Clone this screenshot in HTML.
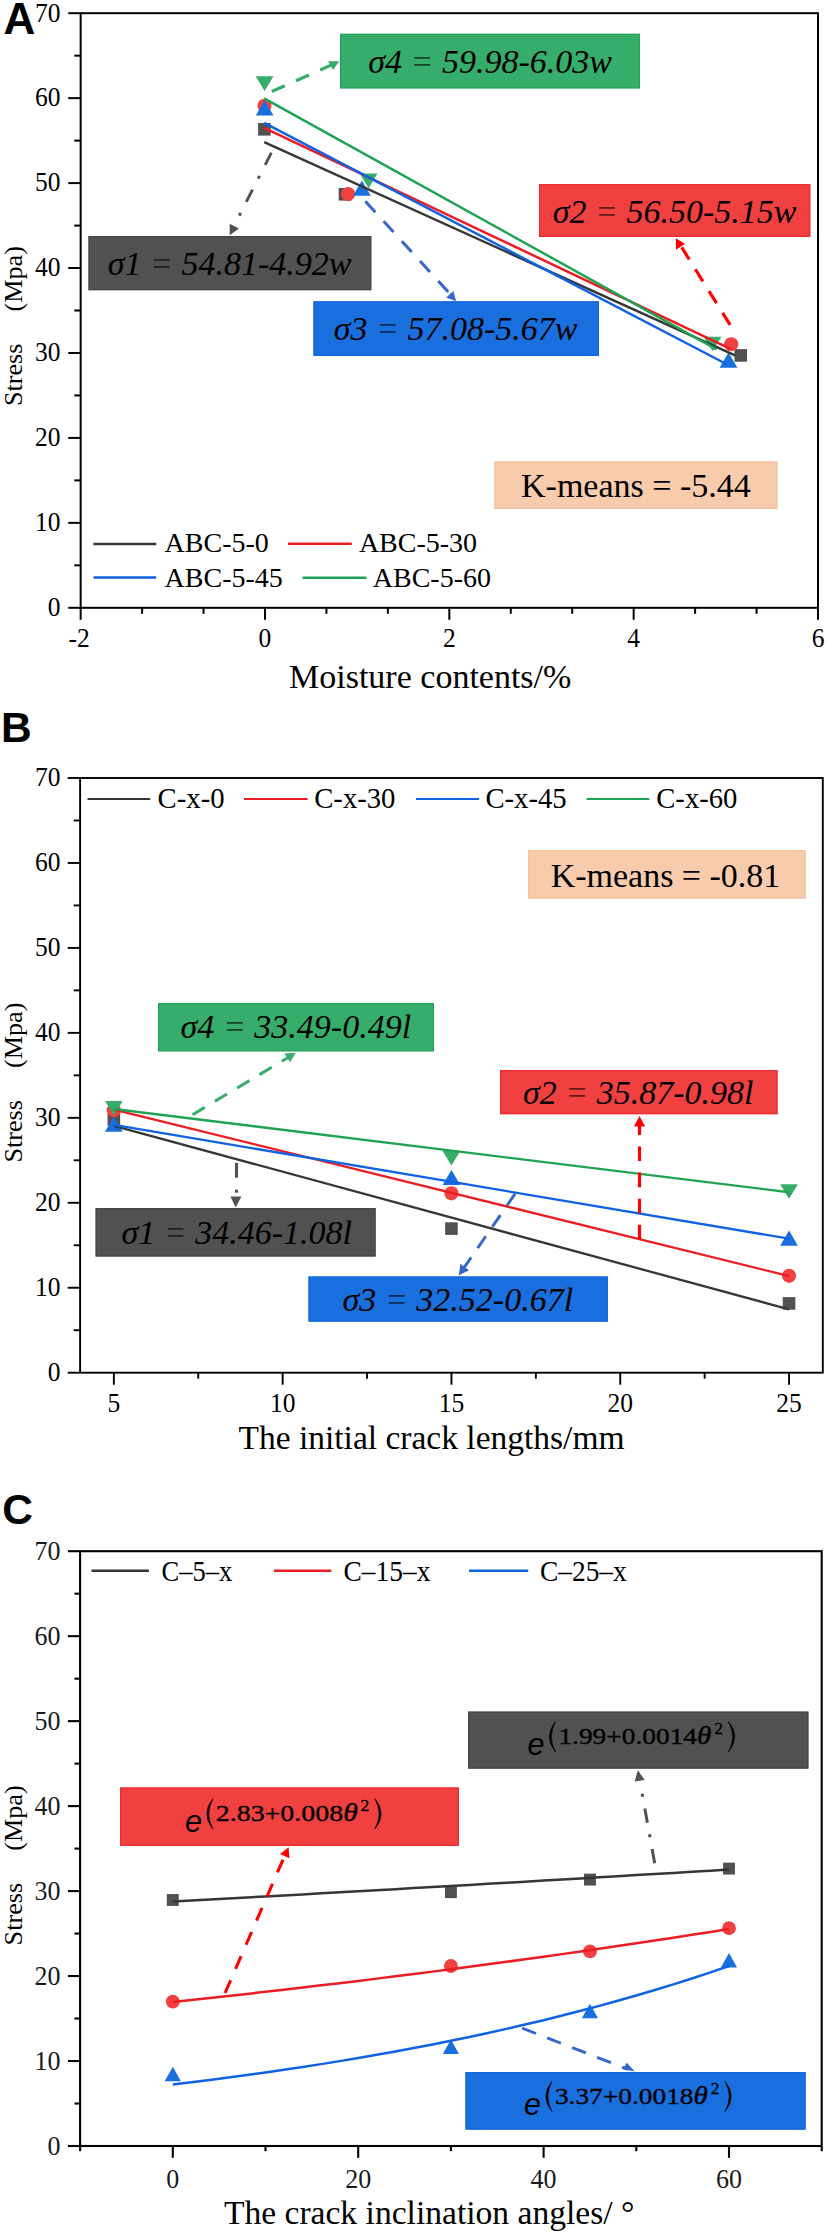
<!DOCTYPE html>
<html><head><meta charset="utf-8"><title>Figure</title>
<style>
html,body{margin:0;padding:0;background:#fff;}
body{width:827px;height:2237px;overflow:hidden;}
svg{display:block;}
</style></head><body>
<svg width="827" height="2237" viewBox="0 0 827 2237">
<rect width="827" height="2237" fill="#fff"/>
<g id="panelA">
<rect x="80.65" y="13.2" width="737.35" height="594.60" fill="none" stroke="#000" stroke-width="2"/>
<line x1="80.65" y1="607.80" x2="80.65" y2="619.80" stroke="#000" stroke-width="2" />
<line x1="264.99" y1="607.80" x2="264.99" y2="619.80" stroke="#000" stroke-width="2" />
<line x1="449.33" y1="607.80" x2="449.33" y2="619.80" stroke="#000" stroke-width="2" />
<line x1="633.66" y1="607.80" x2="633.66" y2="619.80" stroke="#000" stroke-width="2" />
<line x1="818.00" y1="607.80" x2="818.00" y2="619.80" stroke="#000" stroke-width="2" />
<line x1="142.10" y1="607.80" x2="142.10" y2="613.80" stroke="#000" stroke-width="2" />
<line x1="203.54" y1="607.80" x2="203.54" y2="613.80" stroke="#000" stroke-width="2" />
<line x1="326.43" y1="607.80" x2="326.43" y2="613.80" stroke="#000" stroke-width="2" />
<line x1="387.88" y1="607.80" x2="387.88" y2="613.80" stroke="#000" stroke-width="2" />
<line x1="510.77" y1="607.80" x2="510.77" y2="613.80" stroke="#000" stroke-width="2" />
<line x1="572.22" y1="607.80" x2="572.22" y2="613.80" stroke="#000" stroke-width="2" />
<line x1="695.11" y1="607.80" x2="695.11" y2="613.80" stroke="#000" stroke-width="2" />
<line x1="756.55" y1="607.80" x2="756.55" y2="613.80" stroke="#000" stroke-width="2" />
<line x1="68.25" y1="607.80" x2="80.65" y2="607.80" stroke="#000" stroke-width="2" />
<line x1="68.25" y1="522.86" x2="80.65" y2="522.86" stroke="#000" stroke-width="2" />
<line x1="68.25" y1="437.91" x2="80.65" y2="437.91" stroke="#000" stroke-width="2" />
<line x1="68.25" y1="352.97" x2="80.65" y2="352.97" stroke="#000" stroke-width="2" />
<line x1="68.25" y1="268.03" x2="80.65" y2="268.03" stroke="#000" stroke-width="2" />
<line x1="68.25" y1="183.09" x2="80.65" y2="183.09" stroke="#000" stroke-width="2" />
<line x1="68.25" y1="98.14" x2="80.65" y2="98.14" stroke="#000" stroke-width="2" />
<line x1="68.25" y1="13.20" x2="80.65" y2="13.20" stroke="#000" stroke-width="2" />
<line x1="74.25" y1="565.33" x2="80.65" y2="565.33" stroke="#000" stroke-width="2" />
<line x1="74.25" y1="480.39" x2="80.65" y2="480.39" stroke="#000" stroke-width="2" />
<line x1="74.25" y1="395.44" x2="80.65" y2="395.44" stroke="#000" stroke-width="2" />
<line x1="74.25" y1="310.50" x2="80.65" y2="310.50" stroke="#000" stroke-width="2" />
<line x1="74.25" y1="225.56" x2="80.65" y2="225.56" stroke="#000" stroke-width="2" />
<line x1="74.25" y1="140.61" x2="80.65" y2="140.61" stroke="#000" stroke-width="2" />
<line x1="74.25" y1="55.67" x2="80.65" y2="55.67" stroke="#000" stroke-width="2" />
<text transform="translate(60.60,616.10) scale(1.0,1.06)" font-size="25.5" text-anchor="end" font-family="Liberation Serif, serif" >0</text>
<text transform="translate(60.60,531.16) scale(1.0,1.06)" font-size="25.5" text-anchor="end" font-family="Liberation Serif, serif" >10</text>
<text transform="translate(60.60,446.21) scale(1.0,1.06)" font-size="25.5" text-anchor="end" font-family="Liberation Serif, serif" >20</text>
<text transform="translate(60.60,361.27) scale(1.0,1.06)" font-size="25.5" text-anchor="end" font-family="Liberation Serif, serif" >30</text>
<text transform="translate(60.60,276.33) scale(1.0,1.06)" font-size="25.5" text-anchor="end" font-family="Liberation Serif, serif" >40</text>
<text transform="translate(60.60,191.39) scale(1.0,1.06)" font-size="25.5" text-anchor="end" font-family="Liberation Serif, serif" >50</text>
<text transform="translate(60.60,106.44) scale(1.0,1.06)" font-size="25.5" text-anchor="end" font-family="Liberation Serif, serif" >60</text>
<text transform="translate(60.60,21.50) scale(1.0,1.06)" font-size="25.5" text-anchor="end" font-family="Liberation Serif, serif" >70</text>
<text transform="translate(79.15,647.30) scale(1.0,1.06)" font-size="25.5" text-anchor="middle" font-family="Liberation Serif, serif" >-2</text>
<text transform="translate(264.99,647.30) scale(1.0,1.06)" font-size="25.5" text-anchor="middle" font-family="Liberation Serif, serif" >0</text>
<text transform="translate(449.33,647.30) scale(1.0,1.06)" font-size="25.5" text-anchor="middle" font-family="Liberation Serif, serif" >2</text>
<text transform="translate(633.66,647.30) scale(1.0,1.06)" font-size="25.5" text-anchor="middle" font-family="Liberation Serif, serif" >4</text>
<text transform="translate(818.00,647.30) scale(1.0,1.06)" font-size="25.5" text-anchor="middle" font-family="Liberation Serif, serif" >6</text>
<text x="430.20" y="687.50" font-size="34" text-anchor="middle" font-family="Liberation Serif, serif" >Moisture contents/%</text>
<text transform="translate(21.8,406.1) rotate(-90)" font-size="26.2" font-family="Liberation Serif, serif">Stress</text>
<text transform="translate(21.8,311.5) rotate(-90)" font-size="26.2" font-family="Liberation Serif, serif">(Mpa)</text>
<text x="3.40" y="34.20" font-size="44" text-anchor="start" font-family="Liberation Sans, sans-serif" font-weight="bold">A</text>
<rect x="258.10" y="123.00" width="12.6" height="12.6" fill="#515151"/>
<rect x="338.70" y="188.00" width="12.6" height="12.6" fill="#515151"/>
<rect x="734.45" y="349.10" width="12.6" height="12.6" fill="#515151"/>
<circle cx="264.50" cy="105.80" r="7.1" fill="#F14040"/>
<circle cx="348.10" cy="194.10" r="7.1" fill="#F14040"/>
<circle cx="731.25" cy="344.25" r="7.1" fill="#F14040"/>
<polygon points="264.60,100.20 273.50,115.40 255.70,115.40" fill="#1A6FDF"/>
<polygon points="361.90,180.60 370.80,195.80 353.00,195.80" fill="#1A6FDF"/>
<polygon points="728.50,352.60 737.40,367.80 719.60,367.80" fill="#1A6FDF"/>
<polygon points="264.60,90.90 273.50,76.30 255.70,76.30" fill="#37AD6B"/>
<polygon points="368.60,188.20 377.50,173.60 359.70,173.60" fill="#37AD6B"/>
<polygon points="712.60,351.30 721.50,336.70 703.70,336.70" fill="#37AD6B"/>
<line x1="264.19" y1="142.23" x2="735.05" y2="355.37" stroke="#363636" stroke-width="2.5" />
<line x1="264.19" y1="127.87" x2="730.44" y2="348.79" stroke="#EC1C24" stroke-width="2.5" />
<line x1="264.19" y1="122.95" x2="725.83" y2="363.76" stroke="#0F62E2" stroke-width="2.5" />
<line x1="264.19" y1="98.31" x2="716.61" y2="349.29" stroke="#1FA353" stroke-width="2.5" />
<rect x="340.00" y="33.80" width="300.00" height="54.60" fill="#37AD6B"/>
<rect x="340.60" y="34.40" width="298.80" height="53.40" fill="none" stroke="#22A55A" stroke-width="1.2"/>
<text x="368.20" y="73.20" font-size="34" text-anchor="start" font-family="Liberation Serif, serif" font-style="italic" >σ4 <tspan fill-opacity="0.62">=</tspan> 59.98-6.03w</text>
<rect x="539.00" y="184.00" width="271.30" height="53.00" fill="#F14040"/>
<rect x="539.60" y="184.60" width="270.10" height="51.80" fill="none" stroke="#EE2B31" stroke-width="1.2"/>
<text x="552.80" y="222.60" font-size="34" text-anchor="start" font-family="Liberation Serif, serif" font-style="italic" >σ2 <tspan fill-opacity="0.62">=</tspan> 56.50-5.15w</text>
<rect x="88.50" y="236.00" width="282.80" height="54.20" fill="#515151"/>
<rect x="89.10" y="236.60" width="281.60" height="53.00" fill="none" stroke="#454545" stroke-width="1.2"/>
<text x="107.80" y="275.00" font-size="34" text-anchor="start" font-family="Liberation Serif, serif" font-style="italic" >σ1 <tspan fill-opacity="0.62">=</tspan> 54.81-4.92w</text>
<rect x="313.50" y="301.30" width="285.50" height="54.70" fill="#1A6FDF"/>
<rect x="314.10" y="301.90" width="284.30" height="53.50" fill="none" stroke="#1265DE" stroke-width="1.2"/>
<text x="333.80" y="340.00" font-size="34" text-anchor="start" font-family="Liberation Serif, serif" font-style="italic" >σ3 <tspan fill-opacity="0.62">=</tspan> 57.08-5.67w</text>
<rect x="494.40" y="461.40" width="283.00" height="47.40" fill="#F8CBAD"/>
<rect x="495.00" y="462.00" width="281.80" height="46.20" fill="none" stroke="#F6C19D" stroke-width="1.2"/>
<text x="635.90" y="496.90" font-size="34" text-anchor="middle" font-family="Liberation Serif, serif" >K-means = -5.44</text>
<line x1="271.80" y1="91.50" x2="335.00" y2="63.40" stroke="#37AD6B" stroke-width="3.1" stroke-dasharray="14.2 12.3"/>
<polygon points="328.10,61.30 339.30,61.30 332.90,69.90" fill="#37AD6B"/>
<line x1="730.10" y1="324.90" x2="680.00" y2="244.60" stroke="#FF0000" stroke-width="3.2" stroke-dasharray="14.2 11.5"/>
<polygon points="675.80,238.20 676.00,249.80 685.00,243.80" fill="#FF0000"/>
<line x1="365.40" y1="201.30" x2="451.50" y2="295.50" stroke="#3566C9" stroke-width="3.0" stroke-dasharray="14.7 12.3"/>
<polygon points="446.20,297.40 453.40,290.90 456.10,301.30" fill="#3566C9"/>
<line x1="271.40" y1="152.70" x2="238.00" y2="218.10" stroke="#515151" stroke-width="2.9" stroke-dasharray="13.7 12.4 3 12.4"/>
<polygon points="229.70,223.70 229.70,235.20 238.90,228.60" fill="#515151"/>
<line x1="93.50" y1="544.00" x2="156.20" y2="544.00" stroke="#363636" stroke-width="2.5" />
<text x="164.60" y="552.40" font-size="28.0" text-anchor="start" font-family="Liberation Serif, serif" >ABC-5-0</text>
<line x1="288.00" y1="543.80" x2="351.80" y2="543.80" stroke="#EC1C24" stroke-width="2.5" />
<text x="358.90" y="552.40" font-size="28.0" text-anchor="start" font-family="Liberation Serif, serif" >ABC-5-30</text>
<line x1="93.50" y1="577.60" x2="156.20" y2="577.60" stroke="#0F62E2" stroke-width="2.5" />
<text x="164.60" y="587.00" font-size="28.0" text-anchor="start" font-family="Liberation Serif, serif" >ABC-5-45</text>
<line x1="302.60" y1="577.70" x2="366.50" y2="577.70" stroke="#1FA353" stroke-width="2.5" />
<text x="372.80" y="587.00" font-size="28.0" text-anchor="start" font-family="Liberation Serif, serif" >ABC-5-60</text>
</g>
<g id="panelB">
<rect x="80.1" y="778" width="742.70" height="594.70" fill="none" stroke="#000" stroke-width="1.9"/>
<line x1="113.86" y1="1372.70" x2="113.86" y2="1384.70" stroke="#000" stroke-width="1.9" />
<line x1="282.65" y1="1372.70" x2="282.65" y2="1384.70" stroke="#000" stroke-width="1.9" />
<line x1="451.45" y1="1372.70" x2="451.45" y2="1384.70" stroke="#000" stroke-width="1.9" />
<line x1="620.25" y1="1372.70" x2="620.25" y2="1384.70" stroke="#000" stroke-width="1.9" />
<line x1="789.04" y1="1372.70" x2="789.04" y2="1384.70" stroke="#000" stroke-width="1.9" />
<line x1="198.26" y1="1372.70" x2="198.26" y2="1378.70" stroke="#000" stroke-width="1.9" />
<line x1="367.05" y1="1372.70" x2="367.05" y2="1378.70" stroke="#000" stroke-width="1.9" />
<line x1="535.85" y1="1372.70" x2="535.85" y2="1378.70" stroke="#000" stroke-width="1.9" />
<line x1="704.64" y1="1372.70" x2="704.64" y2="1378.70" stroke="#000" stroke-width="1.9" />
<line x1="67.70" y1="1372.70" x2="80.10" y2="1372.70" stroke="#000" stroke-width="1.9" />
<line x1="67.70" y1="1287.74" x2="80.10" y2="1287.74" stroke="#000" stroke-width="1.9" />
<line x1="67.70" y1="1202.79" x2="80.10" y2="1202.79" stroke="#000" stroke-width="1.9" />
<line x1="67.70" y1="1117.83" x2="80.10" y2="1117.83" stroke="#000" stroke-width="1.9" />
<line x1="67.70" y1="1032.87" x2="80.10" y2="1032.87" stroke="#000" stroke-width="1.9" />
<line x1="67.70" y1="947.91" x2="80.10" y2="947.91" stroke="#000" stroke-width="1.9" />
<line x1="67.70" y1="862.96" x2="80.10" y2="862.96" stroke="#000" stroke-width="1.9" />
<line x1="67.70" y1="778.00" x2="80.10" y2="778.00" stroke="#000" stroke-width="1.9" />
<line x1="73.70" y1="1330.22" x2="80.10" y2="1330.22" stroke="#000" stroke-width="1.9" />
<line x1="73.70" y1="1245.26" x2="80.10" y2="1245.26" stroke="#000" stroke-width="1.9" />
<line x1="73.70" y1="1160.31" x2="80.10" y2="1160.31" stroke="#000" stroke-width="1.9" />
<line x1="73.70" y1="1075.35" x2="80.10" y2="1075.35" stroke="#000" stroke-width="1.9" />
<line x1="73.70" y1="990.39" x2="80.10" y2="990.39" stroke="#000" stroke-width="1.9" />
<line x1="73.70" y1="905.44" x2="80.10" y2="905.44" stroke="#000" stroke-width="1.9" />
<line x1="73.70" y1="820.48" x2="80.10" y2="820.48" stroke="#000" stroke-width="1.9" />
<text transform="translate(60.60,1381.00) scale(1.0,1.06)" font-size="25.5" text-anchor="end" font-family="Liberation Serif, serif" >0</text>
<text transform="translate(60.60,1296.04) scale(1.0,1.06)" font-size="25.5" text-anchor="end" font-family="Liberation Serif, serif" >10</text>
<text transform="translate(60.60,1211.09) scale(1.0,1.06)" font-size="25.5" text-anchor="end" font-family="Liberation Serif, serif" >20</text>
<text transform="translate(60.60,1126.13) scale(1.0,1.06)" font-size="25.5" text-anchor="end" font-family="Liberation Serif, serif" >30</text>
<text transform="translate(60.60,1041.17) scale(1.0,1.06)" font-size="25.5" text-anchor="end" font-family="Liberation Serif, serif" >40</text>
<text transform="translate(60.60,956.21) scale(1.0,1.06)" font-size="25.5" text-anchor="end" font-family="Liberation Serif, serif" >50</text>
<text transform="translate(60.60,871.26) scale(1.0,1.06)" font-size="25.5" text-anchor="end" font-family="Liberation Serif, serif" >60</text>
<text transform="translate(60.60,786.30) scale(1.0,1.06)" font-size="25.5" text-anchor="end" font-family="Liberation Serif, serif" >70</text>
<text transform="translate(113.86,1412.00) scale(1.0,1.06)" font-size="25.5" text-anchor="middle" font-family="Liberation Serif, serif" >5</text>
<text transform="translate(282.65,1412.00) scale(1.0,1.06)" font-size="25.5" text-anchor="middle" font-family="Liberation Serif, serif" >10</text>
<text transform="translate(451.45,1412.00) scale(1.0,1.06)" font-size="25.5" text-anchor="middle" font-family="Liberation Serif, serif" >15</text>
<text transform="translate(620.25,1412.00) scale(1.0,1.06)" font-size="25.5" text-anchor="middle" font-family="Liberation Serif, serif" >20</text>
<text transform="translate(789.04,1412.00) scale(1.0,1.06)" font-size="25.5" text-anchor="middle" font-family="Liberation Serif, serif" >25</text>
<text x="431.50" y="1448.50" font-size="33.5" text-anchor="middle" font-family="Liberation Serif, serif" >The initial crack lengths/mm</text>
<text transform="translate(21.8,1162.6) rotate(-90)" font-size="26.2" font-family="Liberation Serif, serif">Stress</text>
<text transform="translate(21.8,1068) rotate(-90)" font-size="26.2" font-family="Liberation Serif, serif">(Mpa)</text>
<text x="0.90" y="742.00" font-size="42.5" text-anchor="start" font-family="Liberation Sans, sans-serif" font-weight="bold">B</text>
<rect x="107.56" y="1113.20" width="12.6" height="12.6" fill="#515151"/>
<rect x="445.15" y="1222.30" width="12.6" height="12.6" fill="#515151"/>
<rect x="782.74" y="1297.10" width="12.6" height="12.6" fill="#515151"/>
<circle cx="113.86" cy="1110.30" r="7.1" fill="#F14040"/>
<circle cx="451.45" cy="1193.30" r="7.1" fill="#F14040"/>
<circle cx="789.04" cy="1275.80" r="7.1" fill="#F14040"/>
<polygon points="113.86,1116.50 122.76,1131.70 104.96,1131.70" fill="#1A6FDF"/>
<polygon points="451.45,1169.90 460.35,1185.10 442.55,1185.10" fill="#1A6FDF"/>
<polygon points="789.04,1230.60 797.94,1245.80 780.14,1245.80" fill="#1A6FDF"/>
<polygon points="113.86,1115.50 122.76,1100.90 104.96,1100.90" fill="#37AD6B"/>
<polygon points="451.45,1165.50 460.35,1150.90 442.55,1150.90" fill="#37AD6B"/>
<polygon points="789.04,1198.80 797.94,1184.20 780.14,1184.20" fill="#37AD6B"/>
<line x1="113.86" y1="1125.81" x2="789.04" y2="1309.32" stroke="#363636" stroke-width="2.3" />
<line x1="113.86" y1="1109.59" x2="789.04" y2="1276.10" stroke="#EC1C24" stroke-width="2.3" />
<line x1="113.86" y1="1124.88" x2="789.04" y2="1238.72" stroke="#0F62E2" stroke-width="2.3" />
<line x1="113.86" y1="1108.99" x2="789.04" y2="1192.25" stroke="#1FA353" stroke-width="2.3" />
<rect x="158.00" y="1003.00" width="276.00" height="48.30" fill="#37AD6B"/>
<rect x="158.60" y="1003.60" width="274.80" height="47.10" fill="none" stroke="#22A55A" stroke-width="1.2"/>
<text x="180.60" y="1037.90" font-size="34" text-anchor="start" font-family="Liberation Serif, serif" font-style="italic" >σ4 <tspan fill-opacity="0.62">=</tspan> 33.49-0.49l</text>
<rect x="500.00" y="1070.00" width="277.60" height="44.20" fill="#F14040"/>
<rect x="500.60" y="1070.60" width="276.40" height="43.00" fill="none" stroke="#EE2B31" stroke-width="1.2"/>
<text x="523.00" y="1104.00" font-size="34" text-anchor="start" font-family="Liberation Serif, serif" font-style="italic" >σ2 <tspan fill-opacity="0.62">=</tspan> 35.87-0.98l</text>
<rect x="95.60" y="1208.00" width="280.00" height="48.50" fill="#515151"/>
<rect x="96.20" y="1208.60" width="278.80" height="47.30" fill="none" stroke="#454545" stroke-width="1.2"/>
<text x="121.50" y="1244.00" font-size="34" text-anchor="start" font-family="Liberation Serif, serif" font-style="italic" >σ1 <tspan fill-opacity="0.62">=</tspan> 34.46-1.08l</text>
<rect x="308.50" y="1276.50" width="299.50" height="45.10" fill="#1A6FDF"/>
<rect x="309.10" y="1277.10" width="298.30" height="43.90" fill="none" stroke="#1265DE" stroke-width="1.2"/>
<text x="342.60" y="1311.00" font-size="34" text-anchor="start" font-family="Liberation Serif, serif" font-style="italic" >σ3 <tspan fill-opacity="0.62">=</tspan> 32.52-0.67l</text>
<rect x="528.00" y="850.00" width="277.60" height="48.60" fill="#F8CBAD"/>
<rect x="528.60" y="850.60" width="276.40" height="47.40" fill="none" stroke="#F6C19D" stroke-width="1.2"/>
<text x="665.50" y="887.30" font-size="34" text-anchor="middle" font-family="Liberation Serif, serif" >K-means = -0.81</text>
</g>
<g id="panelBarrows">
<line x1="192.60" y1="1114.70" x2="291.00" y2="1055.70" stroke="#37AD6B" stroke-width="3.0" stroke-dasharray="14.2 11.8"/>
<polygon points="284.40,1053.40 295.80,1052.80 290.00,1062.20" fill="#37AD6B"/>
<line x1="639.50" y1="1239.40" x2="639.50" y2="1125.00" stroke="#FF0000" stroke-width="3.2" stroke-dasharray="14.6 11.5"/>
<polygon points="639.50,1116.00 633.90,1126.50 645.10,1126.50" fill="#FF0000"/>
<line x1="515.00" y1="1193.90" x2="464.00" y2="1267.80" stroke="#3566C9" stroke-width="2.9" stroke-dasharray="14.4 11.3"/>
<polygon points="458.60,1275.60 460.50,1263.80 469.00,1270.20" fill="#3566C9"/>
<line x1="236.50" y1="1162.90" x2="236.50" y2="1177.70" stroke="#515151" stroke-width="3.0" />
<line x1="236.50" y1="1189.70" x2="236.50" y2="1192.70" stroke="#515151" stroke-width="3.0" />
<polygon points="230.40,1196.50 241.40,1196.50 235.70,1207.50" fill="#515151"/>
<line x1="87.50" y1="799.00" x2="150.20" y2="799.00" stroke="#363636" stroke-width="1.9" />
<text x="157.60" y="808.00" font-size="28.7" text-anchor="start" font-family="Liberation Serif, serif" >C-x-0</text>
<line x1="244.00" y1="799.00" x2="307.60" y2="799.00" stroke="#EC1C24" stroke-width="1.9" />
<text x="314.20" y="808.00" font-size="28.7" text-anchor="start" font-family="Liberation Serif, serif" >C-x-30</text>
<line x1="416.00" y1="799.00" x2="479.00" y2="799.00" stroke="#0F62E2" stroke-width="1.9" />
<text x="485.40" y="808.00" font-size="28.7" text-anchor="start" font-family="Liberation Serif, serif" >C-x-45</text>
<line x1="586.50" y1="799.00" x2="649.20" y2="799.00" stroke="#1FA353" stroke-width="1.9" />
<text x="656.20" y="808.00" font-size="28.7" text-anchor="start" font-family="Liberation Serif, serif" >C-x-60</text>
</g>
<g id="panelC">
<rect x="80.1" y="1551.2" width="741.60" height="594.80" fill="none" stroke="#000" stroke-width="2.1"/>
<line x1="172.80" y1="2146.00" x2="172.80" y2="2157.80" stroke="#000" stroke-width="2.1" />
<line x1="358.20" y1="2146.00" x2="358.20" y2="2157.80" stroke="#000" stroke-width="2.1" />
<line x1="543.60" y1="2146.00" x2="543.60" y2="2157.80" stroke="#000" stroke-width="2.1" />
<line x1="729.00" y1="2146.00" x2="729.00" y2="2157.80" stroke="#000" stroke-width="2.1" />
<line x1="80.10" y1="2146.00" x2="80.10" y2="2151.20" stroke="#000" stroke-width="2.1" />
<line x1="265.50" y1="2146.00" x2="265.50" y2="2151.20" stroke="#000" stroke-width="2.1" />
<line x1="450.90" y1="2146.00" x2="450.90" y2="2151.20" stroke="#000" stroke-width="2.1" />
<line x1="636.30" y1="2146.00" x2="636.30" y2="2151.20" stroke="#000" stroke-width="2.1" />
<line x1="821.70" y1="2146.00" x2="821.70" y2="2151.20" stroke="#000" stroke-width="2.1" />
<line x1="67.90" y1="2146.00" x2="80.10" y2="2146.00" stroke="#000" stroke-width="2.1" />
<line x1="67.90" y1="2061.03" x2="80.10" y2="2061.03" stroke="#000" stroke-width="2.1" />
<line x1="67.90" y1="1976.06" x2="80.10" y2="1976.06" stroke="#000" stroke-width="2.1" />
<line x1="67.90" y1="1891.09" x2="80.10" y2="1891.09" stroke="#000" stroke-width="2.1" />
<line x1="67.90" y1="1806.11" x2="80.10" y2="1806.11" stroke="#000" stroke-width="2.1" />
<line x1="67.90" y1="1721.14" x2="80.10" y2="1721.14" stroke="#000" stroke-width="2.1" />
<line x1="67.90" y1="1636.17" x2="80.10" y2="1636.17" stroke="#000" stroke-width="2.1" />
<line x1="67.90" y1="1551.20" x2="80.10" y2="1551.20" stroke="#000" stroke-width="2.1" />
<line x1="74.50" y1="2103.51" x2="80.10" y2="2103.51" stroke="#000" stroke-width="2.1" />
<line x1="74.50" y1="2018.54" x2="80.10" y2="2018.54" stroke="#000" stroke-width="2.1" />
<line x1="74.50" y1="1933.57" x2="80.10" y2="1933.57" stroke="#000" stroke-width="2.1" />
<line x1="74.50" y1="1848.60" x2="80.10" y2="1848.60" stroke="#000" stroke-width="2.1" />
<line x1="74.50" y1="1763.63" x2="80.10" y2="1763.63" stroke="#000" stroke-width="2.1" />
<line x1="74.50" y1="1678.66" x2="80.10" y2="1678.66" stroke="#000" stroke-width="2.1" />
<line x1="74.50" y1="1593.69" x2="80.10" y2="1593.69" stroke="#000" stroke-width="2.1" />
<text transform="translate(60.60,2154.60) scale(1.0,1.07)" font-size="26" text-anchor="end" font-family="Liberation Serif, serif" fill="#1a1a1a">0</text>
<text transform="translate(60.60,2069.63) scale(1.0,1.07)" font-size="26" text-anchor="end" font-family="Liberation Serif, serif" fill="#1a1a1a">10</text>
<text transform="translate(60.60,1984.66) scale(1.0,1.07)" font-size="26" text-anchor="end" font-family="Liberation Serif, serif" fill="#1a1a1a">20</text>
<text transform="translate(60.60,1899.69) scale(1.0,1.07)" font-size="26" text-anchor="end" font-family="Liberation Serif, serif" fill="#1a1a1a">30</text>
<text transform="translate(60.60,1814.71) scale(1.0,1.07)" font-size="26" text-anchor="end" font-family="Liberation Serif, serif" fill="#1a1a1a">40</text>
<text transform="translate(60.60,1729.74) scale(1.0,1.07)" font-size="26" text-anchor="end" font-family="Liberation Serif, serif" fill="#1a1a1a">50</text>
<text transform="translate(60.60,1644.77) scale(1.0,1.07)" font-size="26" text-anchor="end" font-family="Liberation Serif, serif" fill="#1a1a1a">60</text>
<text transform="translate(60.60,1559.80) scale(1.0,1.07)" font-size="26" text-anchor="end" font-family="Liberation Serif, serif" fill="#1a1a1a">70</text>
<text transform="translate(172.80,2187.60) scale(1.0,1.07)" font-size="26" text-anchor="middle" font-family="Liberation Serif, serif" fill="#1a1a1a">0</text>
<text transform="translate(358.20,2187.60) scale(1.0,1.07)" font-size="26" text-anchor="middle" font-family="Liberation Serif, serif" fill="#1a1a1a">20</text>
<text transform="translate(543.60,2187.60) scale(1.0,1.07)" font-size="26" text-anchor="middle" font-family="Liberation Serif, serif" fill="#1a1a1a">40</text>
<text transform="translate(729.00,2187.60) scale(1.0,1.07)" font-size="26" text-anchor="middle" font-family="Liberation Serif, serif" fill="#1a1a1a">60</text>
<text x="429.20" y="2224.30" font-size="33.6" text-anchor="middle" font-family="Liberation Serif, serif" >The crack inclination angles/ °</text>
<text transform="translate(21.8,1945.3999999999999) rotate(-90)" font-size="26.2" font-family="Liberation Serif, serif">Stress</text>
<text transform="translate(21.8,1850.8) rotate(-90)" font-size="26.2" font-family="Liberation Serif, serif">(Mpa)</text>
<text x="2.20" y="1524.20" font-size="42.5" text-anchor="start" font-family="Liberation Sans, sans-serif" font-weight="bold">C</text>
<rect x="166.85" y="1894.05" width="11.9" height="11.9" fill="#515151"/>
<rect x="444.95" y="1886.25" width="11.9" height="11.9" fill="#515151"/>
<rect x="584.00" y="1873.65" width="11.9" height="11.9" fill="#515151"/>
<rect x="723.05" y="1862.65" width="11.9" height="11.9" fill="#515151"/>
<circle cx="172.80" cy="2001.60" r="6.95" fill="#F14040"/>
<circle cx="450.90" cy="1966.00" r="6.95" fill="#F14040"/>
<circle cx="589.95" cy="1951.40" r="6.95" fill="#F14040"/>
<circle cx="729.00" cy="1928.20" r="6.95" fill="#F14040"/>
<polygon points="172.80,2066.70 180.90,2081.30 164.70,2081.30" fill="#1A6FDF"/>
<polygon points="450.90,2039.50 459.00,2054.10 442.80,2054.10" fill="#1A6FDF"/>
<polygon points="589.95,2003.70 598.05,2018.30 581.85,2018.30" fill="#1A6FDF"/>
<polygon points="729.00,1952.90 737.10,1967.50 720.90,1967.50" fill="#1A6FDF"/>
<path d="M172.80,1901.50 L191.34,1900.50 L209.88,1899.49 L228.42,1898.47 L246.96,1897.46 L265.50,1896.44 L284.04,1895.41 L302.58,1894.38 L321.12,1893.35 L339.66,1892.31 L358.20,1891.27 L376.74,1890.22 L395.28,1889.17 L413.82,1888.12 L432.36,1887.06 L450.90,1885.99 L469.44,1884.92 L487.98,1883.85 L506.52,1882.77 L525.06,1881.69 L543.60,1880.61 L562.14,1879.52 L580.68,1878.42 L599.22,1877.32 L617.76,1876.22 L636.30,1875.11 L654.84,1874.00 L673.38,1872.88 L691.92,1871.76 L710.46,1870.63 L729.00,1869.50" fill="none" stroke="#363636" stroke-width="2.5"/>
<path d="M172.80,2002.00 L191.34,2000.02 L209.88,1998.01 L228.42,1995.97 L246.96,1993.91 L265.50,1991.81 L284.04,1989.69 L302.58,1987.54 L321.12,1985.36 L339.66,1983.15 L358.20,1980.91 L376.74,1978.63 L395.28,1976.33 L413.82,1974.00 L432.36,1971.63 L450.90,1969.23 L469.44,1966.80 L487.98,1964.33 L506.52,1961.83 L525.06,1959.29 L543.60,1956.72 L562.14,1954.12 L580.68,1951.48 L599.22,1948.80 L617.76,1946.09 L636.30,1943.34 L654.84,1940.55 L673.38,1937.72 L691.92,1934.85 L710.46,1931.95 L729.00,1929.00" fill="none" stroke="#EC1C24" stroke-width="2.5"/>
<path d="M172.80,2084.50 L191.34,2082.26 L209.88,2079.94 L228.42,2077.53 L246.96,2075.03 L265.50,2072.45 L284.04,2069.76 L302.58,2066.99 L321.12,2064.11 L339.66,2061.12 L358.20,2058.03 L376.74,2054.82 L395.28,2051.50 L413.82,2048.06 L432.36,2044.49 L450.90,2040.79 L469.44,2036.95 L487.98,2032.98 L506.52,2028.86 L525.06,2024.59 L543.60,2020.16 L562.14,2015.58 L580.68,2010.82 L599.22,2005.90 L617.76,2000.79 L636.30,1995.50 L654.84,1990.01 L673.38,1984.33 L691.92,1978.44 L710.46,1972.33 L729.00,1966.00" fill="none" stroke="#0F62E2" stroke-width="2.5"/>
<rect x="120.00" y="1787.50" width="339.00" height="58.50" fill="#F14040"/>
<rect x="120.60" y="1788.10" width="337.80" height="57.30" fill="none" stroke="#EE2B31" stroke-width="1.2"/>
<rect x="468.00" y="1711.60" width="340.40" height="57.00" fill="#515151"/>
<rect x="468.60" y="1712.20" width="339.20" height="55.80" fill="none" stroke="#454545" stroke-width="1.2"/>
<rect x="465.50" y="2072.00" width="340.10" height="57.60" fill="#1A6FDF"/>
<rect x="466.10" y="2072.60" width="338.90" height="56.40" fill="none" stroke="#1265DE" stroke-width="1.2"/>
<text x="185.00" y="1832.00" font-size="30.5" font-family="Liberation Sans, sans-serif" font-style="italic">e</text>
<path d="M212.80,1798.90 Q200.80,1813.90 212.80,1828.90 Q204.80,1813.90 212.80,1798.90 Z" fill="#000" stroke="#000" stroke-width="0.7" stroke-linejoin="round"/>
<text x="215.80" y="1821.30" font-size="23.4" font-family="Liberation Serif, serif" stroke="#000" stroke-width="0.35" textLength="142.0" lengthAdjust="spacingAndGlyphs">2.83+0.008<tspan font-style="italic" font-size="25">θ</tspan></text>
<text x="360.60" y="1811.00" font-size="17.6" font-family="Liberation Serif, serif" stroke="#000" stroke-width="0.3">2</text>
<path d="M374.90,1798.70 Q387.30,1813.80 374.90,1828.90 Q383.30,1813.80 374.90,1798.70 Z" fill="#000" stroke="#000" stroke-width="0.7" stroke-linejoin="round"/>
<text x="527.60" y="1754.90" font-size="30.5" font-family="Liberation Sans, sans-serif" font-style="italic">e</text>
<path d="M555.40,1721.80 Q543.40,1736.80 555.40,1751.80 Q547.40,1736.80 555.40,1721.80 Z" fill="#000" stroke="#000" stroke-width="0.7" stroke-linejoin="round"/>
<text x="558.40" y="1744.20" font-size="23.4" font-family="Liberation Serif, serif" stroke="#000" stroke-width="0.35" textLength="153.0" lengthAdjust="spacingAndGlyphs">1.99+0.0014<tspan font-style="italic" font-size="25">θ</tspan></text>
<text x="714.20" y="1733.90" font-size="17.6" font-family="Liberation Serif, serif" stroke="#000" stroke-width="0.3">2</text>
<path d="M728.50,1721.60 Q740.90,1736.70 728.50,1751.80 Q736.90,1736.70 728.50,1721.60 Z" fill="#000" stroke="#000" stroke-width="0.7" stroke-linejoin="round"/>
<text x="524.10" y="2114.60" font-size="30.5" font-family="Liberation Sans, sans-serif" font-style="italic">e</text>
<path d="M551.90,2081.50 Q539.90,2096.50 551.90,2111.50 Q543.90,2096.50 551.90,2081.50 Z" fill="#000" stroke="#000" stroke-width="0.7" stroke-linejoin="round"/>
<text x="554.90" y="2103.90" font-size="23.4" font-family="Liberation Serif, serif" stroke="#000" stroke-width="0.35" textLength="153.0" lengthAdjust="spacingAndGlyphs">3.37+0.0018<tspan font-style="italic" font-size="25">θ</tspan></text>
<text x="710.70" y="2093.60" font-size="17.6" font-family="Liberation Serif, serif" stroke="#000" stroke-width="0.3">2</text>
<path d="M725.00,2081.30 Q737.40,2096.40 725.00,2111.50 Q733.40,2096.40 725.00,2081.30 Z" fill="#000" stroke="#000" stroke-width="0.7" stroke-linejoin="round"/>
<line x1="225.10" y1="1993.00" x2="284.50" y2="1856.20" stroke="#FF0000" stroke-width="3.1" stroke-dasharray="13.9 12.4"/>
<polygon points="288.60,1847.30 280.00,1854.00 289.40,1858.30" fill="#FF0000"/>
<line x1="654.70" y1="1863.30" x2="641.50" y2="1790.00" stroke="#515151" stroke-width="3.0" stroke-dasharray="14.5 12 3 11.7"/>
<polygon points="637.90,1770.20 634.60,1781.60 644.70,1779.90" fill="#515151"/>
<line x1="522.20" y1="2028.10" x2="628.00" y2="2069.40" stroke="#3566C9" stroke-width="2.9" stroke-dasharray="14.8 12.0"/>
<polygon points="634.80,2071.40 626.80,2062.80 622.80,2069.20" fill="#3566C9"/>
<line x1="91.50" y1="1570.80" x2="149.00" y2="1570.80" stroke="#363636" stroke-width="2.5" />
<text transform="translate(161.60,1580.80) scale(0.915,1.0)" font-size="29" text-anchor="start" font-family="Liberation Serif, serif" >C–5–x</text>
<line x1="274.00" y1="1570.80" x2="331.40" y2="1570.80" stroke="#EC1C24" stroke-width="2.5" />
<text transform="translate(343.60,1580.80) scale(0.945,1.0)" font-size="29" text-anchor="start" font-family="Liberation Serif, serif" >C–15–x</text>
<line x1="469.00" y1="1570.80" x2="528.20" y2="1570.80" stroke="#0F62E2" stroke-width="2.5" />
<text transform="translate(540.00,1580.80) scale(0.945,1.0)" font-size="29" text-anchor="start" font-family="Liberation Serif, serif" >C–25–x</text>
</g>
</svg></body></html>
